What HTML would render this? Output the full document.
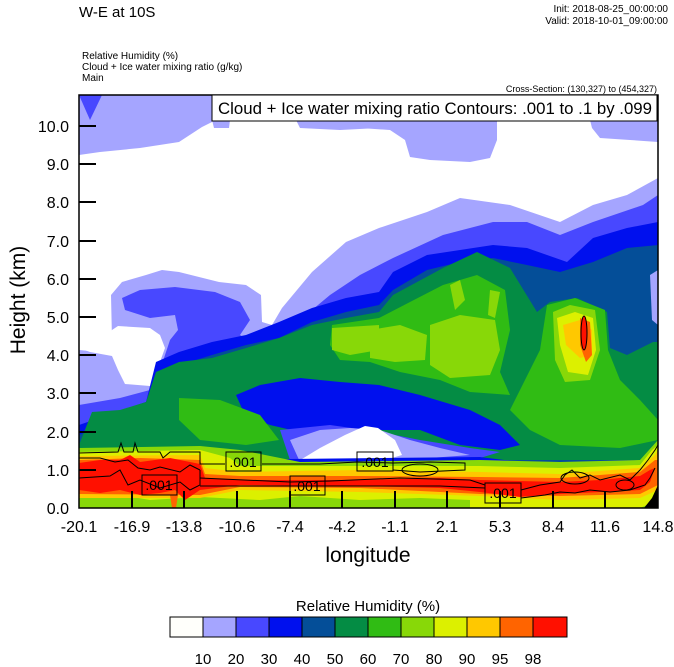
<!DOCTYPE html>
<html><head><meta charset="utf-8"><style>
html,body{margin:0;padding:0;background:#fff;}
svg{display:block;font-family:"Liberation Sans",Arial,sans-serif;}
</style></head><body>
<svg width="674" height="667" viewBox="0 0 674 667" xmlns="http://www.w3.org/2000/svg">
<defs><clipPath id="pc"><rect x="79" y="95" width="579" height="413"/></clipPath></defs>
<text x="79" y="17" font-size="15">W-E at 10S</text>
<text x="668" y="12" font-size="10" text-anchor="end">Init: 2018-08-25_00:00:00</text>
<text x="668" y="24" font-size="10" text-anchor="end">Valid: 2018-10-01_09:00:00</text>
<text x="82" y="59" font-size="10">Relative Humidity   (%)</text>
<text x="82" y="70" font-size="10">Cloud + Ice water mixing ratio   (g/kg)</text>
<text x="82" y="81" font-size="10">Main</text>
<text x="657" y="92" font-size="9" text-anchor="end">Cross-Section: (130,327) to (454,327)</text>

<g clip-path="url(#pc)">
<rect x="79" y="95" width="579" height="413" fill="#fff"/>
<polygon fill="#a5a5ff" points="79,95 212,95 212,122 202,127 179,142 140,148 100,152 79,155"/>
<polygon fill="#a5a5ff" points="212,120 230,120 229,128 214,128"/>
<polygon fill="#a5a5ff" points="296,120 379,120 379,128 340,130 300,128"/>
<polygon fill="#a5a5ff" points="360,120 497,120 497,140 490,158 470,162 430,160 410,157 405,140 390,130 360,128"/>
<polygon fill="#a5a5ff" points="590,120 658,95 658,142 630,140 600,138 592,128"/>
<polygon fill="#4848ff" points="79,95 102,95 90,120"/>
<polygon fill="#a5a5ff" points="79,350 100,352 112,340 111,295 122,282 146,275 162,270 179,272 219,282 246,285 261,295 262,322 272,325 282,308 312,272 346,242 379,228 427,212 460,198 510,205 560,222 593,205 627,195 658,178 658,508 79,508"/>
<polygon fill="#fff" points="79,348 100,340 112,330 118,326 150,328 160,335 165,348 160,362 158,380 150,386 125,384 118,370 112,356 90,352"/>
<polygon fill="#4848ff" points="79,405 120,398 150,390 160,370 170,340 178,330 175,315 150,318 125,310 122,298 140,290 175,287 215,292 240,302 250,320 240,335 255,345 275,340 300,320 330,295 360,275 393,258 443,235 493,222 527,222 560,235 593,222 643,205 658,195 658,508 79,508"/>
<polygon fill="#0010ee" points="79,425 146,402 156,362 179,352 212,342 246,335 279,322 312,308 346,298 379,292 393,272 427,255 493,245 527,248 567,262 593,238 627,228 658,222 658,508 79,508"/>
<polygon fill="#044e98" points="79,435 100,425 130,415 146,405 160,375 180,365 212,355 246,345 279,338 312,322 346,312 379,305 393,290 427,270 460,262 493,258 527,265 560,272 593,262 627,248 658,245 658,508 79,508"/>
<polygon fill="#a5a5ff" points="650,275 658,270 658,325 652,320"/>
<polygon fill="#0010ee" points="600,382 620,375 647,395 650,415 630,418 605,400"/>
<!-- green band -->
<polygon fill="#048c44" points="79,445 92,412 120,410 146,402 156,372 179,362 212,358 246,348 279,338 312,325 346,318 379,312 393,295 443,268 477,252 510,268 537,312 550,302 577,298 607,312 610,348 627,355 653,342 658,342 658,460 79,460 79,452 92,442 92,440 112,430 146,434 179,445 246,448 279,445 259,428 229,405 236,382 279,385 346,378 379,372 410,382 460,395 510,415 527,442 560,448 593,448 627,448 658,430 658,460 79,460"/>
<!-- lower blue band & lavender/white region -->
<polygon fill="#0010ee" points="236,395 260,385 300,378 340,382 379,385 420,395 470,410 500,425 520,445 500,450 460,445 420,430 379,430 340,428 300,432 270,425 245,415"/>
<polygon fill="#4848ff" points="280,430 330,425 380,432 420,440 470,448 500,452 480,458 400,460 330,462 290,460"/>
<polygon fill="#a5a5ff" points="290,440 320,430 350,428 380,430 410,440 440,448 470,455 430,458 360,460 300,462"/>
<polygon fill="#fff" points="297,462 320,448 345,435 365,426 378,428 395,440 402,455 385,460 360,462"/>
<polygon fill="#0010ee" points="200,460 480,457 520,462 520,467 200,468"/>
<!-- light green -->
<polygon fill="#30bc14" points="179,398 220,400 260,415 279,440 246,445 200,440 179,420"/>
<polygon fill="#30bc14" points="332,325 379,318 410,302 443,285 477,275 505,290 510,330 500,372 510,395 470,392 440,380 400,372 370,362 340,360 330,345"/>
<polygon fill="#30bc14" points="547,305 575,298 605,310 608,350 620,380 640,400 658,420 658,440 620,448 560,445 530,430 510,410 525,380 540,350"/>
<polygon fill="#88d808" points="332,328 379,325 379,350 350,355 332,350"/>
<polygon fill="#88d808" points="370,330 400,325 427,335 425,360 395,362 370,358"/>
<polygon fill="#88d808" points="430,325 460,315 495,320 500,350 490,375 450,378 430,365"/>
<polygon fill="#88d808" points="450,285 460,280 465,300 455,310"/>
<polygon fill="#88d808" points="490,290 500,292 495,318 488,315"/>
<polygon fill="#88d808" points="553,312 570,305 595,310 600,350 590,380 565,382 555,360"/>
<polygon fill="#dcf000" points="557,318 575,312 593,318 596,350 588,375 568,372 560,345"/>
<polygon fill="#ffc800" points="563,325 580,320 592,330 592,355 580,358 566,345"/>
<polygon fill="#ff6400" points="580,318 590,322 592,355 586,362 580,345"/>
<ellipse cx="584" cy="333" rx="3" ry="17" fill="#ff1000" stroke="#000" stroke-width="1"/>
<!-- surface layer -->
<polygon fill="#88d808" points="79,448 200,446 240,450 300,462 480,460 560,462 640,460 658,440 658,508 79,508"/>
<polygon fill="#dcf000" points="79,452 200,450 230,458 240,466 480,466 560,468 640,465 652,450 658,445 658,500 640,508 79,508"/>
<polygon fill="#88d808" points="79,498 120,495 150,500 200,497 260,500 300,496 360,500 420,498 470,500 470,508 79,508"/>
<polygon fill="#ffc800" points="79,456 200,455 205,468 240,472 360,470 480,472 560,474 640,468 655,455 658,450 658,490 640,498 560,500 480,496 360,492 240,490 200,498 79,498"/>
<polygon fill="#ff6400" points="79,460 140,458 200,460 205,474 240,476 360,476 480,477 560,478 640,472 655,460 658,460 658,485 640,494 560,496 480,494 360,488 240,487 200,495 79,494"/>
<polygon fill="#ff1000" points="79,463 100,460 120,460 130,455 140,462 170,458 200,464 205,478 240,480 360,480 440,478 480,480 560,482 600,480 640,476 650,470 655,468 650,482 640,490 600,492 560,494 520,497 480,492 440,488 360,486 240,485 200,490 185,500 175,490 160,493 140,495 120,490 100,493 79,490"/>
<polygon fill="#ff6400" points="170,495 178,495 176,508 172,508"/>
<polygon fill="#000" points="658,485 658,508 644,508 652,498"/>
<g fill="none" stroke="#000" stroke-width="1">
<polyline points="79,453 118,452 121,443 124,452 133,452 135,443 138,452 160,452 163,458 170,452 200,452 200,464 225,464"/>
<polyline points="79,458 100,458 115,462 128,460 138,468 150,470 160,467 180,472 190,465 200,470"/>
<polyline points="79,478 110,476 120,470 128,485 140,480 160,488 180,482 190,490 200,485 200,470"/>
<polyline points="262,464 320,464 357,462 393,463 430,462 465,463 465,470 420,472 393,470"/>
<polyline points="200,478 290,482 330,481 400,478 470,480 485,485"/>
<polyline points="200,486 290,486 330,486 440,486 485,488"/>
<polyline points="521,490 540,485 560,482 565,475 572,470 580,478 590,475 600,480 620,475 630,480 640,470 648,460 655,450 658,445"/>
<polyline points="521,498 545,495 560,492 575,493 590,490 610,492 630,490 645,485 650,478 655,468"/>
<ellipse cx="420" cy="470" rx="18" ry="6"/>
<ellipse cx="575" cy="478" rx="14" ry="6"/>
<ellipse cx="625" cy="485" rx="9" ry="5"/>
</g>
<g font-size="14" text-anchor="middle">
<rect x="226" y="452" width="35" height="19" fill="none" stroke="#000"/><text x="243" y="467">.001</text>
<rect x="142" y="475" width="35" height="20" fill="none" stroke="#000"/><text x="159" y="490">.001</text>
<rect x="290" y="476" width="35" height="19" fill="none" stroke="#000"/><text x="307" y="491">.001</text>
<rect x="357" y="452" width="36" height="19" fill="none" stroke="#000"/><text x="375" y="467">.001</text>
<rect x="485" y="483" width="36" height="20" fill="none" stroke="#000"/><text x="503" y="498">.001</text>
</g>
</g>
<rect x="79" y="95" width="579" height="413" fill="none" stroke="#000" stroke-width="1.5"/>
<rect x="212" y="95" width="445" height="26" fill="#fff" stroke="#000" stroke-width="1"/>
<text x="218" y="114" font-size="17" textLength="434" lengthAdjust="spacingAndGlyphs">Cloud + Ice water mixing ratio Contours: .001 to .1 by .099</text>

<g stroke="#000" stroke-width="2">
<line x1="79" y1="126" x2="96" y2="126"/><line x1="79" y1="164" x2="96" y2="164"/><line x1="79" y1="202" x2="96" y2="202"/><line x1="79" y1="241" x2="96" y2="241"/><line x1="79" y1="279" x2="96" y2="279"/><line x1="79" y1="317" x2="96" y2="317"/><line x1="79" y1="355" x2="96" y2="355"/><line x1="79" y1="393" x2="96" y2="393"/><line x1="79" y1="432" x2="96" y2="432"/><line x1="79" y1="470" x2="96" y2="470"/>
<line x1="132" y1="508" x2="132" y2="491"/><line x1="184" y1="508" x2="184" y2="491"/><line x1="237" y1="508" x2="237" y2="491"/><line x1="290" y1="508" x2="290" y2="491"/><line x1="342" y1="508" x2="342" y2="491"/><line x1="395" y1="508" x2="395" y2="491"/><line x1="447" y1="508" x2="447" y2="491"/><line x1="500" y1="508" x2="500" y2="491"/><line x1="553" y1="508" x2="553" y2="491"/><line x1="605" y1="508" x2="605" y2="491"/>
</g>
<g font-size="16" text-anchor="end">
<text x="69" y="132">10.0</text><text x="69" y="170">9.0</text><text x="69" y="208">8.0</text><text x="69" y="247">7.0</text><text x="69" y="285">6.0</text><text x="69" y="323">5.0</text><text x="69" y="361">4.0</text><text x="69" y="399">3.0</text><text x="69" y="438">2.0</text><text x="69" y="476">1.0</text><text x="69" y="514">0.0</text>
</g>
<g font-size="16" text-anchor="middle">
<text x="79" y="532">-20.1</text><text x="132" y="532">-16.9</text><text x="184" y="532">-13.8</text><text x="237" y="532">-10.6</text><text x="290" y="532">-7.4</text><text x="342" y="532">-4.2</text><text x="395" y="532">-1.1</text><text x="447" y="532">2.1</text><text x="500" y="532">5.3</text><text x="553" y="532">8.4</text><text x="605" y="532">11.6</text><text x="658" y="532">14.8</text>
</g>
<text x="368" y="562" font-size="21" text-anchor="middle">longitude</text>
<text transform="translate(25,300) rotate(-90)" font-size="21" text-anchor="middle">Height (km)</text>

<text x="368" y="611" font-size="15" text-anchor="middle">Relative Humidity  (%)</text>
<g stroke="#000" stroke-width="1">
<rect x="170" y="617" width="33" height="20" fill="#fffffb"/>
<rect x="203" y="617" width="33" height="20" fill="#a5a5ff"/>
<rect x="236" y="617" width="33" height="20" fill="#4848ff"/>
<rect x="269" y="617" width="33" height="20" fill="#0010ee"/>
<rect x="302" y="617" width="33" height="20" fill="#044e98"/>
<rect x="335" y="617" width="33" height="20" fill="#048c44"/>
<rect x="368" y="617" width="33" height="20" fill="#30bc14"/>
<rect x="401" y="617" width="33" height="20" fill="#88d808"/>
<rect x="434" y="617" width="33" height="20" fill="#dcf000"/>
<rect x="467" y="617" width="33" height="20" fill="#ffc800"/>
<rect x="500" y="617" width="33" height="20" fill="#ff6400"/>
<rect x="533" y="617" width="34" height="20" fill="#ff1000"/>
</g>
<g font-size="15" text-anchor="middle">
<text x="203" y="664">10</text><text x="236" y="664">20</text><text x="269" y="664">30</text><text x="302" y="664">40</text><text x="335" y="664">50</text><text x="368" y="664">60</text><text x="401" y="664">70</text><text x="434" y="664">80</text><text x="467" y="664">90</text><text x="500" y="664">95</text><text x="533" y="664">98</text>
</g>
</svg>
</body></html>
